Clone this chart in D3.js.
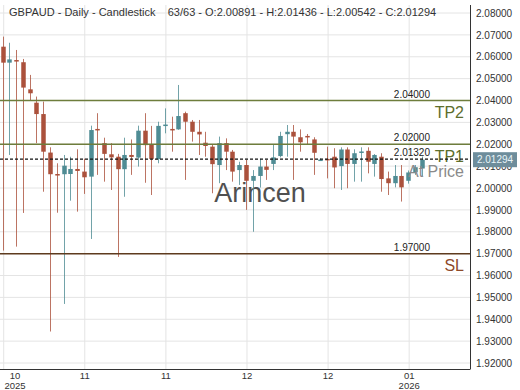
<!DOCTYPE html>
<html>
<head>
<meta charset="utf-8">
<script src="https://cdn.jsdelivr.net/npm/d3@7"></script>
<style>
  html, body { margin: 0; padding: 0; background: #fff; }
  svg { display: block; font-family: "Liberation Sans", Arial, sans-serif; }
</style>
</head>
<body>
<svg id="chart" width="520" height="390"></svg>
<script>
// ---- data ----
const opens  = [2.0646,2.0573,2.0585,2.0575,2.0451,2.0390,2.0338,2.0162,2.0064,2.0063,
                2.0064,2.0087,2.0075,2.0052,2.0270,2.0205,2.0154,2.0143,2.0086,2.0151,
                2.0139,2.0262,2.0200,2.0132,2.0285,2.0270,2.0268,2.0342,2.0303,2.0257,
                2.0207,2.0189,2.0105,2.0205,2.0166,2.0082,2.0105,2.0033,2.0055,2.0098,
                2.0110,2.0146,2.0246,2.0257,2.0232,2.0238,2.0222,2.0128,2.0133,2.0143,
                2.0100,2.0176,2.0110,2.0165,2.0170,2.0110,2.0143,2.0044,2.0022,2.0055,
                2.0033,2.0072,2.00891];
const highs  = [2.0692,2.0664,2.0631,2.0590,2.0517,2.0418,2.0395,2.0186,2.0113,2.0151,
                2.0143,2.0177,2.0134,2.0285,2.0342,2.0230,2.0205,2.0156,2.0230,2.0222,
                2.0285,2.0342,2.0284,2.0303,2.0364,2.0326,2.0471,2.0349,2.0311,2.0311,
                2.0257,2.0201,2.0235,2.0227,2.0174,2.0120,2.0128,2.0082,2.0134,2.0128,
                2.0197,2.0257,2.0288,2.0288,2.0268,2.0247,2.0232,2.0135,2.0189,2.0182,
                2.0186,2.0186,2.0177,2.0186,2.0186,2.0155,2.0159,2.0075,2.0105,2.0105,
                2.0080,2.0105,2.01436];
const lows   = [1.9714,2.0151,1.9732,1.9886,2.0399,2.0205,1.9983,1.9344,1.9887,1.9470,
                1.9942,1.9892,1.9973,1.9767,2.0060,2.0029,1.9991,1.9685,1.9960,2.0060,
                2.0098,2.0024,1.9968,2.0113,2.0250,2.0166,2.0266,2.0037,2.0212,2.0151,
                2.0143,1.9976,2.0022,2.0082,2.0029,2.0014,1.9900,1.9800,2.0002,2.0037,
                2.0082,2.0140,2.0143,2.0037,2.0166,2.0197,2.0060,2.0125,2.0044,1.9999,
                1.9991,1.9999,2.0029,2.0029,2.0067,2.0052,1.9983,1.9968,2.0003,1.9938,
                2.0020,2.0060,2.00542];
const closes = [2.0573,2.0588,2.0578,2.0459,2.0433,2.0338,2.0166,2.0063,2.0057,2.0102,
                2.0087,2.0078,2.0049,2.0265,2.0267,2.0156,2.0140,2.0086,2.0151,2.0142,
                2.0262,2.0196,2.0133,2.0284,2.0290,2.0268,2.0329,2.0303,2.0257,2.0245,
                2.0192,2.0109,2.0205,2.0166,2.0075,2.0105,2.0033,2.0055,2.0098,2.0083,
                2.0140,2.0238,2.0257,2.0235,2.0209,2.0237,2.0161,2.0130,2.0129,2.0094,
                2.0176,2.0110,2.0159,2.0167,2.0120,2.0151,2.0041,2.0022,2.0055,2.0003,
                2.0071,2.0095,2.01294];

const yTicks = [2.08,2.07,2.06,2.05,2.04,2.03,2.02,2.01,2.00,1.99,1.98,1.97,1.96,1.95,1.94,1.93,1.92];
const xTickIdx    = [0, 12, 24, 36, 48, 60];
const xTickMonth  = ["10","11","11","12","12","01"];
const xTickYear   = ["2025","","","","","2026"];

const levelNames  = ["TP2","TP1","At Price","SL"];
const levelValues = [2.04, 2.02, 2.0132, 1.97];
const levelLabels = ["2.04000","2.02000","2.01320","1.97000"];

const title = "GBPAUD - Daily - Candlestick\u00a0\u00a0\u00a0\u00a063/63 - O:2.00891 - H:2.01436 - L:2.00542 - C:2.01294";
const lastPrice = 2.01294;

// ---- scales ----
const svg = d3.select("#chart");
const plotLeft = 0, plotRight = 470, plotTop = 5, plotBottom = 369;
const y = d3.scaleLinear().domain([1.92, 2.08]).range([363, 13]);
const x = d3.scaleLinear().domain([0, opens.length - 1]).range([2.7, 421.7]);

const bull = "#4f8c94", bear = "#ab513c";

// grid
const grid = svg.append("g");
grid.selectAll("line.h").data(yTicks).join("line")
  .attr("x1", plotLeft).attr("x2", plotRight)
  .attr("y1", d => y(d)).attr("y2", d => y(d))
  .attr("stroke", "#e4e4e4").attr("stroke-width", 1);
grid.selectAll("line.v").data(xTickIdx).join("line")
  .attr("x1", d => x(d) + 1).attr("x2", d => x(d) + 1)
  .attr("y1", plotTop).attr("y2", plotBottom)
  .attr("stroke", "#e4e4e4").attr("stroke-width", 1);

// watermark
svg.append("text").attr("x", 260).attr("y", 202)
  .attr("text-anchor", "middle").attr("font-size", 27)
  .attr("fill", "#505050").text("Arincen");

// candles
const idx = d3.range(opens.length);
const cg = svg.append("g");
cg.selectAll("line.wick").data(idx).join("line")
  .attr("x1", i => Math.round(x(i)) + 0.5).attr("x2", i => Math.round(x(i)) + 0.5)
  .attr("y1", i => y(highs[i])).attr("y2", i => y(lows[i]))
  .attr("stroke", i => closes[i] >= opens[i] ? bull : bear)
  .attr("stroke-opacity", 0.8).attr("stroke-width", 1);
cg.selectAll("rect.body").data(idx).join("rect")
  .attr("x", i => Math.round(x(i)) - 1.75)
  .attr("width", 4.5)
  .attr("y", i => y(Math.max(opens[i], closes[i])))
  .attr("height", i => Math.max(1.5, Math.abs(y(opens[i]) - y(closes[i]))))
  .attr("fill", i => closes[i] >= opens[i] ? bull : bear);

// levels
const levelColor = {"TP2":"#6e7d3c","TP1":"#6e7d3c","At Price":"#111","SL":"#5e3b1e"};
const textColor  = {"TP2":"#5d6e2c","TP1":"#5d6e2c","At Price":"#8a8a8a","SL":"#8e4a2a"};
const lg = svg.append("g");
levelValues.forEach((v, k) => {
  const name = levelNames[k];
  const ly = y(v);
  lg.append("line").attr("x1", plotLeft).attr("x2", plotRight)
    .attr("y1", ly).attr("y2", ly)
    .attr("stroke", levelColor[name])
    .attr("stroke-width", name === "At Price" ? 1.2 : 1.5)
    .attr("stroke-dasharray", name === "At Price" ? "3,2" : null);
  lg.append("text").attr("x", 430).attr("y", ly - 3)
    .attr("text-anchor", "end").attr("font-size", 10).attr("fill", "#222")
    .text(levelLabels[k]);
  lg.append("text").attr("x", 464).attr("y", ly + 17.5)
    .attr("text-anchor", "end").attr("font-size", 16).attr("fill", textColor[name])
    .text(name);
});

// frame
svg.append("line").attr("x1", plotRight + 0.5).attr("x2", plotRight + 0.5)
  .attr("y1", plotTop).attr("y2", plotBottom).attr("stroke", "#333");
svg.append("line").attr("x1", plotLeft).attr("x2", plotRight + 0.5)
  .attr("y1", plotBottom + 0.5).attr("y2", plotBottom + 0.5).attr("stroke", "#333");

// y axis
const yAxis = d3.axisRight(y).tickValues(yTicks).tickFormat(d3.format(".5f"))
  .tickSize(0).tickPadding(6);
const ya = svg.append("g").attr("transform", `translate(${plotRight},0)`).call(yAxis);
ya.select(".domain").remove();
ya.selectAll("text").attr("font-size", 10).attr("fill", "#333")
  .attr("font-family", "Liberation Sans, Arial, sans-serif");

// last price tag
const py = y(lastPrice);
svg.append("rect").attr("x", 473).attr("y", py - 7.5).attr("width", 44).attr("height", 15)
  .attr("fill", "#6e8d9b");
svg.append("text").attr("x", 495).attr("y", py + 3.5).attr("text-anchor", "middle")
  .attr("font-size", 10).attr("fill", "#e8f4f8").text(d3.format(".5f")(lastPrice));

// x axis labels
const xa = svg.append("g");
xTickIdx.forEach((t, k) => {
  const cx = Math.max(x(t) + 1, 15);
  xa.append("text").attr("x", cx).attr("y", 379).attr("text-anchor", "middle")
    .attr("font-size", 9.5).attr("fill", "#333").text(xTickMonth[k]);
  if (xTickYear[k]) {
    xa.append("text").attr("x", cx).attr("y", 389).attr("text-anchor", "middle")
      .attr("font-size", 9.5).attr("fill", "#333").text(xTickYear[k]);
  }
});

// title
svg.append("text").attr("x", 9).attr("y", 16).attr("font-size", 11)
  .attr("fill", "#333").text(title);
</script>
</body>
</html>
